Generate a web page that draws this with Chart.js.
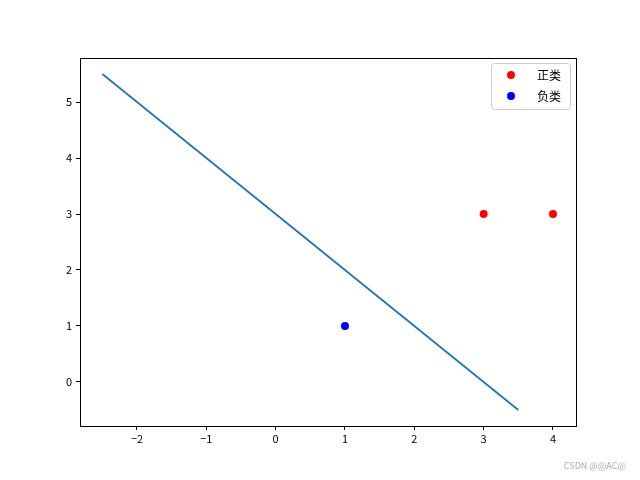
<!DOCTYPE html>
<html><head><meta charset="utf-8">
<script src="https://cdn.jsdelivr.net/npm/chart.js@4"></script>
<style>html,body{margin:0;padding:0;background:#fff}#w{width:640px;height:480px}</style>
</head><body><div id="w"><canvas id="c" width="640" height="480"></canvas></div>
<script>
const lineX = [-2.5, 3.5];
const lineY = [5.5, -0.5];
const posX = [3, 4];
const posY = [3, 3];
const negX = [1];
const negY = [1];
const xTicks = [-2, -1, 0, 1, 2, 3, 4];
const yTicks = [0, 1, 2, 3, 4, 5];
const legendLabels = ['正类', '负类'];
const FONT = '"Noto Sans CJK SC", "DejaVu Sans", sans-serif';

const pts = (xs, ys) => xs.map((x, i) => ({x, y: ys[i]}));
const fmt = v => (v < 0 ? '\u2212' + Math.abs(v) : String(v));

const frame = {
  id: 'frame',
  afterDraw(chart) {
    const {ctx, chartArea: a} = chart;
    ctx.save();
    ctx.strokeStyle = '#000'; ctx.lineWidth = 1;
    ctx.strokeRect(a.left + 0.5, a.top + 0.5, a.right - a.left, a.bottom - a.top);
    const lx = a.right - 85, ly = a.top + 5, lw = 79, lh = 46;
    ctx.fillStyle = 'rgba(255,255,255,0.8)';
    ctx.strokeStyle = '#ccc';
    ctx.beginPath(); ctx.roundRect(lx + 0.5, ly + 0.5, lw, lh, 3); ctx.fill(); ctx.stroke();
    const cols = ['#ff0000', '#0000ff'];
    ctx.font = '12px ' + FONT; ctx.textBaseline = 'middle';
    legendLabels.forEach((t, i) => {
      const cy = ly + 12 + i * 21;
      ctx.fillStyle = cols[i];
      ctx.beginPath(); ctx.arc(lx + 20, cy, 4, 0, Math.PI * 2); ctx.fill();
      ctx.fillStyle = '#000';
      ctx.fillText(t, lx + 46, cy);
    });
    ctx.fillStyle = '#aaa'; ctx.font = '9px ' + FONT; ctx.textAlign = 'right';
    ctx.fillText('CSDN @@AC@', 626, 466);
    ctx.restore();
  }
};

new Chart(document.getElementById('c'), {
  data: {
    datasets: [
      {type: 'line', data: pts(lineX, lineY), borderColor: '#1f77b4', borderWidth: 1.8, pointRadius: 0, fill: false},
      {type: 'scatter', data: pts(posX, posY), backgroundColor: '#ff0000', borderColor: '#ff0000', pointRadius: 4, borderWidth: 0},
      {type: 'scatter', data: pts(negX, negY), backgroundColor: '#0000ff', borderColor: '#0000ff', pointRadius: 4, borderWidth: 0}
    ]
  },
  options: {
    responsive: false, animation: false,
    layout: {padding: {left: 0, top: 58, right: 64, bottom: 0}},
    plugins: {legend: {display: false}, tooltip: {enabled: false}},
    scales: {
      x: {
        type: 'linear', min: -2.822, max: 4.332,
        afterBuildTicks: s => { s.ticks = xTicks.map(v => ({value: v})); },
        afterFit: s => { s.height = 54; },
        grid: {drawOnChartArea: false, drawTicks: true, tickLength: 4, color: '#000'},
        border: {display: false},
        ticks: {color: '#000', font: {family: FONT, size: 11}, padding: 2, maxRotation: 0, callback: v => fmt(v)}
      },
      y: {
        type: 'linear', min: -0.786, max: 5.786,
        afterBuildTicks: s => { s.ticks = yTicks.map(v => ({value: v})); },
        afterFit: s => { s.width = 80; },
        grid: {drawOnChartArea: false, drawTicks: true, tickLength: 4, color: '#000'},
        border: {display: false},
        ticks: {color: '#000', font: {family: FONT, size: 11}, padding: 4, callback: v => fmt(v)}
      }
    }
  },
  plugins: [frame]
});
</script></body></html>
